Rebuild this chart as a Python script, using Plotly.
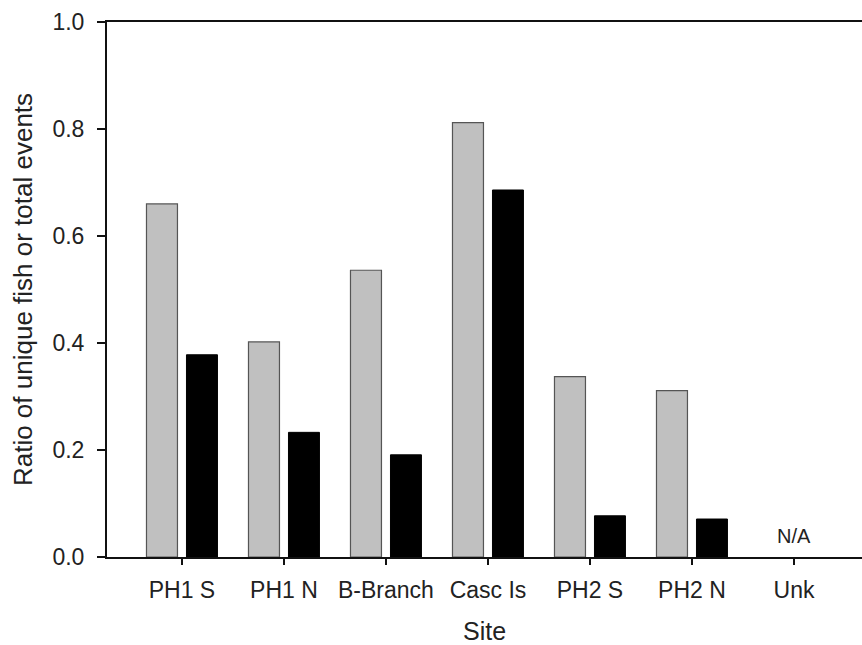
import plotly.graph_objects as go

sites = ["PH1 S", "PH1 N", "B-Branch", "Casc Is", "PH2 S", "PH2 N", "Unk"]
unique_fish = [0.660, 0.402, 0.536, 0.812, 0.337, 0.311, None]
total_events = [0.378, 0.233, 0.191, 0.686, 0.077, 0.071, None]
y_ticks = [0.0, 0.2, 0.4, 0.6, 0.8, 1.0]

font_family = "Liberation Sans, Arial, sans-serif"

fig = go.Figure()
fig.add_trace(go.Bar(
    x=sites, y=unique_fish, name="Unique fish",
    marker=dict(color="#c0c0c0", line=dict(color="#555555", width=1.2)),
))
fig.add_trace(go.Bar(
    x=sites, y=total_events, name="Total events",
    marker=dict(color="#000000", line=dict(color="#000000", width=1)),
))

fig.add_annotation(x="Unk", y=0.0, yshift=21, text="N/A", showarrow=False,
                   font=dict(family=font_family, size=20, color="#222222"))

fig.update_layout(
    width=862, height=645,
    margin=dict(l=107, r=0, t=22, b=88),
    paper_bgcolor="white", plot_bgcolor="white",
    barmode="group", bargap=0.216, bargroupgap=0.225,
    showlegend=False,
    font=dict(family=font_family, size=23, color="#222222"),
)
fig.update_xaxes(
    range=[-0.735, 6.667],
    showline=True, linecolor="#111111", linewidth=2, mirror=True,
    ticks="outside", ticklen=6, tickwidth=2, tickcolor="#111111",
    showgrid=False, zeroline=False,
    tickfont=dict(size=23),
    ticklabelstandoff=5,
    title=dict(text="Site", font=dict(size=25), standoff=22),
)
fig.update_yaxes(
    range=[0, 1.0], tickvals=y_ticks, tickformat=".1f",
    showline=True, linecolor="#111111", linewidth=2,
    ticks="outside", ticklen=8, tickwidth=2, tickcolor="#111111",
    showgrid=False, zeroline=False,
    tickfont=dict(size=23),
    ticklabelstandoff=8,
    title=dict(text="Ratio of unique fish or total events", font=dict(size=26), standoff=12),
)

fig.write_html("out.html")
